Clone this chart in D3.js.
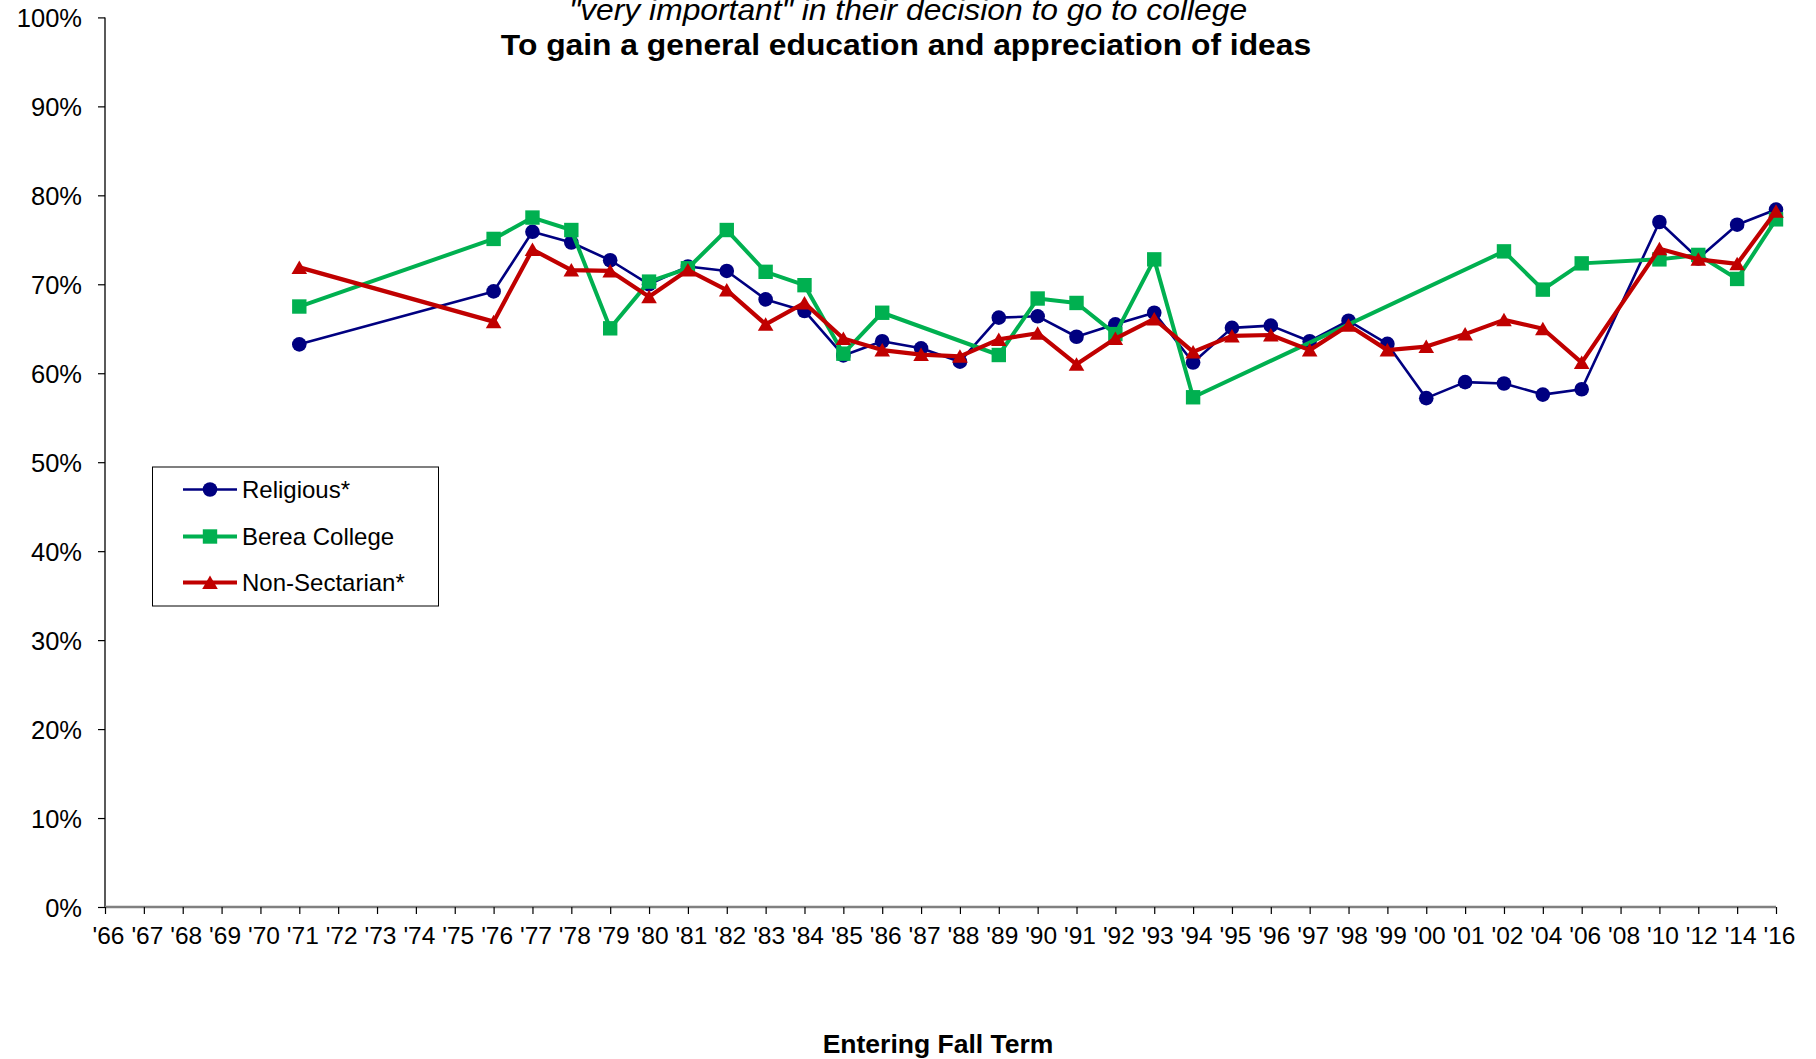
<!DOCTYPE html>
<html>
<head>
<meta charset="utf-8">
<script src="https://cdn.jsdelivr.net/npm/d3@7"></script>
<style>
  html, body { margin: 0; padding: 0; background: #fff; }
  svg { display: block; }
  text { font-family: "Liberation Sans", Arial, sans-serif; fill: #000; }
</style>
</head>
<body>
<svg id="chart" width="1816" height="1059"></svg>
<script>
const categories = ["'66","'67","'68","'69","'70","'71","'72","'73","'74","'75","'76","'77","'78","'79","'80","'81","'82","'83","'84","'85","'86","'87","'88","'89","'90","'91","'92","'93","'94","'95","'96","'97","'98","'99","'00","'01","'02","'04","'06","'08","'10","'12","'14","'16"];

const religious = [null,null,null,null,null,63.25,null,null,null,null,69.2,75.9,74.7,72.7,70.0,72.0,71.5,68.3,67.0,62.0,63.6,62.8,61.3,66.25,66.4,64.1,65.5,66.8,61.2,65.1,65.35,63.6,65.9,63.3,57.2,59.0,58.85,57.6,58.2,null,77.0,72.9,76.7,78.4];

const berea = [null,null,null,null,null,67.5,null,null,null,null,75.1,77.5,76.1,65.05,70.3,71.8,76.1,71.4,69.9,62.2,66.8,null,null,62.05,68.4,67.9,64.4,72.8,57.3,null,null,null,null,null,null,null,73.7,69.4,72.35,null,72.8,73.3,70.6,77.3];

const nonSectarian = [null,null,null,null,null,71.9,null,null,null,null,65.8,73.9,71.6,71.5,68.6,71.6,69.35,65.5,67.9,63.9,62.6,62.1,61.9,63.8,64.5,61.0,63.9,66.1,62.4,64.2,64.3,62.6,65.4,62.6,63.0,64.4,66.0,65.0,61.2,null,74.0,72.8,72.3,78.2];

const yTicks = [0,10,20,30,40,50,60,70,80,90,100];
const seriesNames = ["Religious*","Berea College","Non-Sectarian*"];
const titleLine1 = "\"very important\"  in their decision to go to college";
const titleLine2 = "To gain a general education and appreciation of ideas";
const xTitle = "Entering Fall Term";

const svg = d3.select("#chart");
const plotLeft = 105, plotRight = 1776, plotTop = 17.4, plotBottom = 907;

const x = d3.scalePoint().domain(categories).range([plotLeft, plotRight]).padding(0);
const y = d3.scaleLinear().domain([0, 100]).range([plotBottom, plotTop]);

// Titles (top line partly clipped, as in the reference)
svg.append("text")
  .attr("transform", "translate(908,20) scale(1.06,1)")
  .attr("text-anchor", "middle")
  .style("font-size", "30px").style("font-style", "italic")
  .text(titleLine1);
svg.append("text")
  .attr("transform", "translate(906,55) scale(1.06,1)")
  .attr("text-anchor", "middle")
  .style("font-size", "30px").style("font-weight", "bold")
  .text(titleLine2);

// Y axis
const yAxis = svg.append("g")
  .attr("transform", `translate(${plotLeft},0)`)
  .call(d3.axisLeft(y).tickValues(yTicks).tickSize(7).tickFormat(d => d + "%"));
yAxis.select(".domain").attr("stroke", "#000").attr("stroke-width", 1.3).attr("d", `M0,${plotTop}V${plotBottom}`);
yAxis.selectAll(".tick line").attr("stroke", "#000").attr("stroke-width", 1.2);
yAxis.selectAll(".tick text")
  .attr("x", null).attr("dy", null)
  .attr("transform", "translate(-23,9) scale(1.02,1)")
  .attr("text-anchor", "end")
  .style("font-size", "25px").style("font-family", "'Liberation Sans', Arial, sans-serif");

// X axis
const xAxis = svg.append("g")
  .attr("transform", `translate(0,${plotBottom})`)
  .call(d3.axisBottom(x).tickSize(7).tickSizeOuter(0));
xAxis.select(".domain").attr("stroke", "#808080").attr("stroke-width", 2.6).attr("d", `M${plotLeft},0H${plotRight}`);
xAxis.selectAll(".tick line").attr("stroke", "#000").attr("stroke-width", 1.2);
xAxis.selectAll(".tick text")
  .attr("y", null).attr("dy", null)
  .attr("transform", "translate(3,37)")
  .attr("text-anchor", "middle")
  .style("font-size", "24.5px").style("font-family", "'Liberation Sans', Arial, sans-serif");

// X axis title
svg.append("text")
  .attr("transform", "translate(938,1053) scale(1.04,1)")
  .attr("text-anchor", "middle")
  .style("font-size", "25.5px").style("font-weight", "bold")
  .text(xTitle);

// Series
const series = [
  { name: seriesNames[0], values: religious, color: "#000080", width: 2.6, marker: "circle" },
  { name: seriesNames[1], values: berea, color: "#00B050", width: 4, marker: "square" },
  { name: seriesNames[2], values: nonSectarian, color: "#C00000", width: 4.2, marker: "triangle" }
];

function markerPath(type) {
  if (type === "circle") return d3.symbol(d3.symbolCircle, Math.PI * 7.3 * 7.3)();
  if (type === "square") return "M-7.2,-7.2H7.2V7.2H-7.2Z";
  return "M0,-7.5L7.8,6L-7.8,6Z";
}

const line = d3.line().x(d => x(d.c)).y(d => y(d.v));

series.forEach(s => {
  const pts = categories.map((c, i) => ({ c, v: s.values[i] })).filter(d => d.v !== null);
  const g = svg.append("g");
  g.append("path").datum(pts)
    .attr("fill", "none").attr("stroke", s.color).attr("stroke-width", s.width)
    .attr("stroke-linejoin", "round")
    .attr("d", line);
  g.selectAll("path.m").data(pts).enter().append("path")
    .attr("class", "m")
    .attr("transform", d => `translate(${x(d.c)},${y(d.v) + (s.marker === "triangle" ? 0.5 : 0)})`)
    .attr("d", markerPath(s.marker))
    .attr("fill", s.color);
});

// Legend
const lg = svg.append("g");
lg.append("rect").attr("x", 152.5).attr("y", 467).attr("width", 286).attr("height", 139)
  .attr("fill", "#fff").attr("stroke", "#000").attr("stroke-width", 1);
const legendY = [489.5, 536.5, 582.5];
series.forEach((s, i) => {
  const gy = legendY[i];
  lg.append("line").attr("x1", 183).attr("x2", 237).attr("y1", gy).attr("y2", gy)
    .attr("stroke", s.color).attr("stroke-width", s.width);
  lg.append("path").attr("transform", `translate(210,${gy + (s.marker === "triangle" ? 0.5 : 0)})`)
    .attr("d", markerPath(s.marker)).attr("fill", s.color);
  lg.append("text")
    .attr("transform", `translate(242,${gy + 8.6})`)
    .style("font-size", "24px")
    .text(s.name);
});
</script>
</body>
</html>
